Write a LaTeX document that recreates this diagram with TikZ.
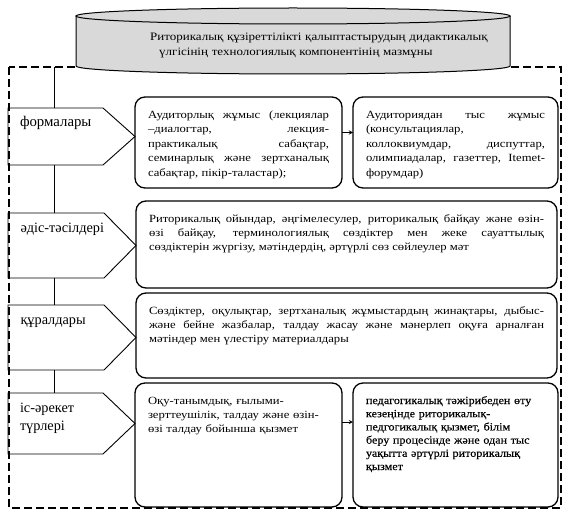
\documentclass[tikz,border=0pt]{standalone}
\usepackage{fontspec}
\setmainfont{Liberation Serif}
\newfontfamily\boxfont[FakeStretch=1.15]{Liberation Serif}
\newfontfamily\boxboldfont[FakeStretch=1.1, FakeBold=0.3]{Liberation Serif}
\usetikzlibrary{positioning}
\definecolor{cylgray}{RGB}{217,217,217}

\begin{document}
\begin{tikzpicture}[x=1pt, y=-1pt, >=stealth,
  sidetag/.style={anchor=north west, outer sep=0pt, inner xsep=12pt, inner ysep=0pt, minimum width=127pt, text width=103pt, align=left, text height=19pt, font=\fontsize{14.3}{18}\selectfont},
  cellbox/.style={draw, line width=1.3pt, rounded corners=10pt, anchor=north west, outer sep=0pt, inner xsep=13pt, inner ysep=0pt, text height=21pt, align=justify, font=\boxfont\fontsize{11}{14}\selectfont},
  outerframe/.style={line width=1.1pt, dash pattern=on 8pt off 4pt}]
  \useasboundingbox (0,0) rectangle (567,516);
  \draw[outerframe] (9,67) rectangle (561,508);
  \coordinate (spine) at (54,67);
  \draw[line width=1pt, fill=cylgray] (76,16) -- (76,66) arc[start angle=180, end angle=0, x radius=217, y radius=8] -- (510,16);
  \draw[line width=1pt, fill=cylgray] (293,16) ellipse [x radius=217, y radius=8];
  \node[anchor=north west, inner sep=0pt, text width=360pt, align=left, text height=12pt, font=\boxfont\fontsize{11.3}{15}\selectfont] (title) at (150,28) {Риторикалық құзіреттілікті қалыптастырудың дидактикалық\\\hspace*{9pt}үлгісінің технологиялық компонентінің мазмұны};

  \node[sidetag, text depth=38pt, font=\fontsize{14.8}{17}\selectfont] (form) at (8,108) {формалары};
  \node[sidetag, minimum width=128pt, text depth=46pt] (meth) at (8,213) {әдіс-тәсілдері};
  \node[sidetag, minimum width=128pt, text depth=46pt] (tool) at (8,305) {құралдары};
  \node[sidetag, text depth=42pt] (act) at (8,393) {іс-әрекет\\түрлері};
  \foreach \t in {form,meth,tool,act}
    \draw[line width=0.9pt] (\t.north west) -- ([xshift=-32pt]\t.north east) -- (\t.east) -- ([xshift=-32pt]\t.south east) -- (\t.south west) -- cycle;
  \draw[line width=0.9pt] (spine) -- (spine |- form.north);
  \draw[line width=0.9pt] (spine |- form.south) -- (spine |- meth.north);
  \draw[line width=0.9pt] (spine |- meth.south) -- (spine |- tool.north);
  \draw[line width=0.9pt] (spine |- tool.south) -- (spine |- act.north);

  \node[cellbox, text width=181pt, text depth=70pt, font=\boxfont\fontsize{11}{14.5}\selectfont] (aud) at (135,97) {Аудиторлық жұмыс (лекциялар\linebreak –диалогтар, лекция-\linebreak практикалық сабақтар,\linebreak семинарлық және зертханалық\linebreak сабақтар, пікір-таластар);};
  \node[cellbox, right=11pt of aud, text width=179pt, text depth=70pt, font=\boxfont\fontsize{11}{14.5}\selectfont] (outaud) {Аудиториядан тыс жұмыс\linebreak (консультациялар,\\ коллоквиумдар, диспуттар,\linebreak олимпиадалар, газеттер, Itemet-\linebreak форумдар)};
  \node[cellbox, text width=395pt, text depth=66pt] (methbox) at (136,201) {Риторикалық ойындар, әңгімелесулер, риторикалық байқау және өзін-\linebreak өзі байқау, терминологиялық сөздіктер мен жеке сауаттылық\linebreak сөздіктерін жүргізу, мәтіндердің, әртүрлі сөз сөйлеулер мәт};
  \node[cellbox, text width=395pt, text depth=64pt] (toolbox) at (136,293) {Сөздіктер, оқулықтар, зертханалық жұмыстардың жинақтары, дыбыс-\linebreak және бейне жазбалар, талдау жасау және мәнерлеп оқуға арналған\linebreak мәтіндер мен үлестіру материалдары};
  \node[cellbox, align=left, text width=181pt, text depth=103pt] (actbox) at (135,383) {Оқу-танымдық, ғылыми-\\зерттеушілік, талдау және өзін-\\өзі талдау бойынша қызмет};
  \node[cellbox, align=left, right=11pt of actbox, text width=179pt, text depth=103pt, font=\boxboldfont\fontsize{11}{13.2}\selectfont] (actout) {педагогикалық тәжірибеден өту\\кезеңінде риторикалық-\\педгогикалық қызмет, білім\\беру процесінде және одан тыс\\уақытта әртүрлі риторикалық\\қызмет};
  \draw[->, line width=0.9pt] ([yshift=10pt]aud.east) -- ([yshift=10pt]outaud.west);
  \draw[->, line width=0.9pt] ([yshift=23pt]actbox.east) -- ([yshift=23pt]actout.west);
\end{tikzpicture}
\end{document}
